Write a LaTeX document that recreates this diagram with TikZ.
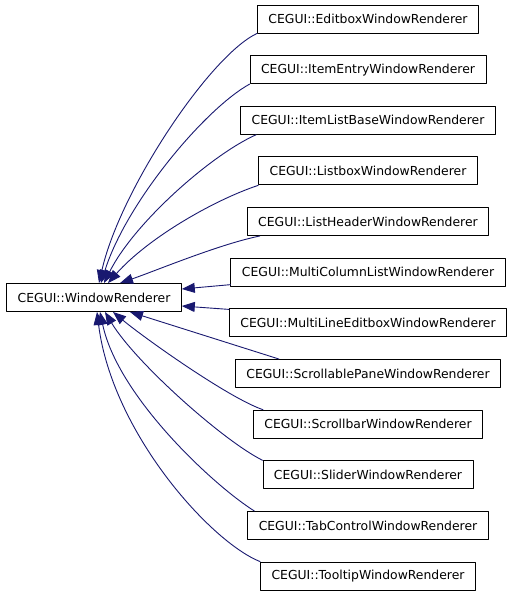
\documentclass[tikz,border=0pt]{standalone}
\usepackage{fontspec}
\setmainfont{DejaVu Sans}
\usetikzlibrary{arrows.meta}
\definecolor{edgeblue}{RGB}{25,25,112}

\begin{document}
\begin{tikzpicture}[x=1pt, y=-1pt, line cap=round, line join=round,
  cls/.style={draw=black, line width=0.9pt, fill=white, inner xsep=11pt,
    inner ysep=0pt, minimum height=28pt, font=\fontsize{12.4}{14}\selectfont},
  inh/.style={edgeblue, line width=0.9pt, -{Triangle[length=13pt, width=10pt]}}]

  \useasboundingbox (0,0) rectangle (512,595);

  %========= base class =========
  \node[cls] (base) at (94,297.5) {CEGUI::WindowRenderer};

  %========= derived renderers =========
  \foreach \kind [count=\i from 0] in {Editbox,ItemEntry,ItemListBase,Listbox,
      ListHeader,MultiColumnList,MultiLineEditbox,ScrollablePane,Scrollbar,
      Slider,TabControl,Tooltip}
    \node[cls] (d\i) at (368,19+50.64*\i) {CEGUI::\kind WindowRenderer};

  %========= inheritance edges =========
  \draw[inh] (d0.south west) .. controls +(-47,22) and +(21,-93) .. ([xshift=5pt]base.north);
  \draw[inh] (d1.south west) .. controls +(-45,25) and +(25,-80) .. ([xshift=7pt]base.north);
  \draw[inh] ([xshift=16pt]d2.south west) .. controls +(-45,20) and +(30,-60) .. ([xshift=10pt]base.north);
  \draw[inh] (d3.south west) .. controls +(-45,15) and +(40,-45) .. ([xshift=14pt]base.north);
  \draw[inh] ([xshift=13pt]d4.south west) .. controls +(-40,8) and +(35,-12) .. ([xshift=26pt]base.north);
  \draw[inh] ([yshift=2pt]d5.south west) -- ([yshift=8.5pt]base.east);
  \draw[inh] ([yshift=-1pt]d6.north west) -- ([yshift=-8.5pt]base.east);
  \draw[inh] ([xshift=44pt]d7.north west) -- ([xshift=36pt]base.south);
  \draw[inh] ([xshift=10pt]d8.north west) .. controls +(-35,-12) and +(30,25) .. ([xshift=19pt]base.south);
  \draw[inh] (d9.north west) .. controls +(-40,-20) and +(30,50) .. ([xshift=11pt]base.south);
  \draw[inh] ([xshift=7pt]d10.north west) .. controls +(-40,-25) and +(18,85) .. ([xshift=6pt]base.south);
  \draw[inh] (d11.north west) .. controls +(-50,-20) and +(15,120) .. ([xshift=3pt]base.south);
\end{tikzpicture}
\end{document}
